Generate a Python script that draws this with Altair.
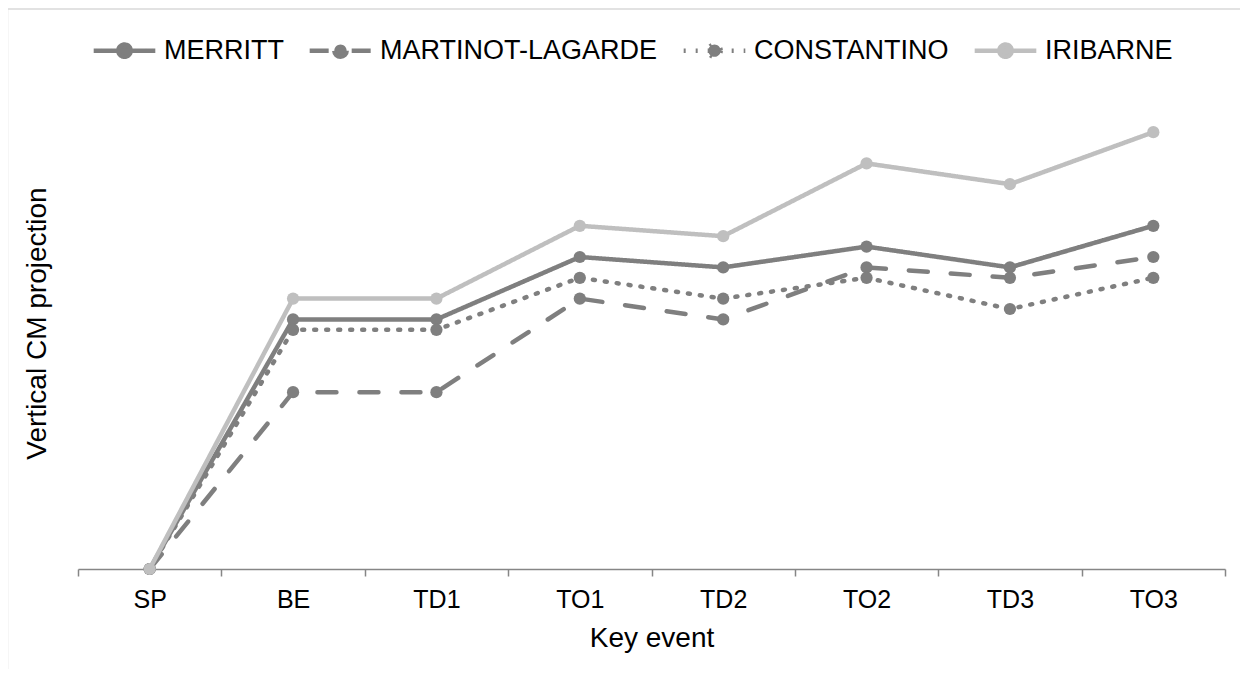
import altair as alt
import pandas as pd

events = ["SP", "BE", "TD1", "TO1", "TD2", "TO2", "TD3", "TO3"]
series_names = ["MERRITT", "MARTINOT-LAGARDE", "CONSTANTINO", "IRIBARNE"]
merritt = [0, 24, 24, 30, 29, 31, 29, 33]
martinot = [0, 17, 17, 26, 24, 29, 28, 30]
constantino = [0, 23, 23, 28, 26, 28, 25, 28]
iribarne = [0, 26, 26, 33, 32, 39, 37, 42]

colors = ["#7f7f7f", "#7f7f7f", "#7f7f7f", "#bfbfbf"]
dashes = [[1, 0], [19, 23], [2, 10], [1, 0]]

rows = []
for name, vals in zip(series_names, [merritt, martinot, constantino, iribarne]):
    for e, v in zip(events, vals):
        rows.append({"event": e, "value": v, "series": name, "order": series_names.index(name)})
df = pd.DataFrame(rows)

FONT = "Liberation Sans"
sym_path = "M-1,0L1,0M0.2,0A0.2,0.2,0,1,1,-0.2,0A0.2,0.2,0,1,1,0.2,0Z"

x_enc = alt.X("event:N", sort=events, scale=alt.Scale(paddingInner=0, paddingOuter=0),
              axis=alt.Axis(title="Key event", labelAngle=0, labelFontSize=25, labelFont=FONT,
                            labelColor="#000000", titleFont=FONT, titleFontSize=28,
                            titleFontWeight="normal", titleColor="#000000",
                            domainColor="#868686", domainWidth=1.5, tickColor="#868686",
                            tickWidth=1.5, tickSize=7, tickBand="extent", labelPadding=11,
                            titlePadding=12, grid=False))
y_enc = alt.Y("value:Q", scale=alt.Scale(domain=[0, 45], nice=False, zero=True),
              axis=alt.Axis(title="Vertical CM projection", labels=False, ticks=False,
                            domain=False, grid=False, titleFont=FONT, titleFontSize=28,
                            titleFontWeight="normal", titleColor="#000000", titlePadding=27,
                            titleY=222))

scale_col = alt.Scale(domain=series_names, range=colors)
legend = alt.Legend(title=None, orient="none", direction="horizontal", legendX=13, legendY=-84,
                    symbolType=sym_path, symbolSize=3800, symbolStrokeWidth=4.5,
                    labelFont=FONT, labelFontSize=27, labelColor="#000000", labelOffset=6,
                    labelLimit=0, columnPadding=16, padding=0)

lines = alt.Chart(df).mark_line(strokeWidth=4.5, strokeCap="round", strokeJoin="round").encode(
    x=x_enc, y=y_enc,
    stroke=alt.Stroke("series:N", scale=scale_col, sort=series_names, legend=legend),
    strokeDash=alt.StrokeDash("series:N", sort=series_names,
                              scale=alt.Scale(domain=series_names, range=dashes), legend=legend),
    detail="series:N",
    order=alt.Order("order:Q"),
)

points = alt.Chart(df).mark_point(filled=True, size=150, opacity=1).encode(
    x=x_enc, y=y_enc,
    fill=alt.Fill("series:N", scale=scale_col, sort=series_names, legend=legend),
    order=alt.Order("order:Q"),
)

layers = []
for name in series_names:
    layers += [lines.transform_filter(alt.datum.series == name),
               points.transform_filter(alt.datum.series == name)]

border = alt.Chart(pd.DataFrame({"a": [0]})).mark_rect(
    fill=None, stroke="#d9d9d9", strokeWidth=1.5, clip=False
).encode(x=alt.value(-70.5), x2=alt.value(1300), y=alt.value(-92), y2=alt.value(700))

chart = alt.layer(border, *layers).properties(
    width=1147, height=468,
    autosize=alt.AutoSizeParams(type="none"),
    padding={"left": 70, "top": 93, "right": 15, "bottom": 100},
).configure(background="#ffffff").configure_view(stroke=None)

chart.save("out.html", embed_options={"renderer": "svg", "actions": False})
